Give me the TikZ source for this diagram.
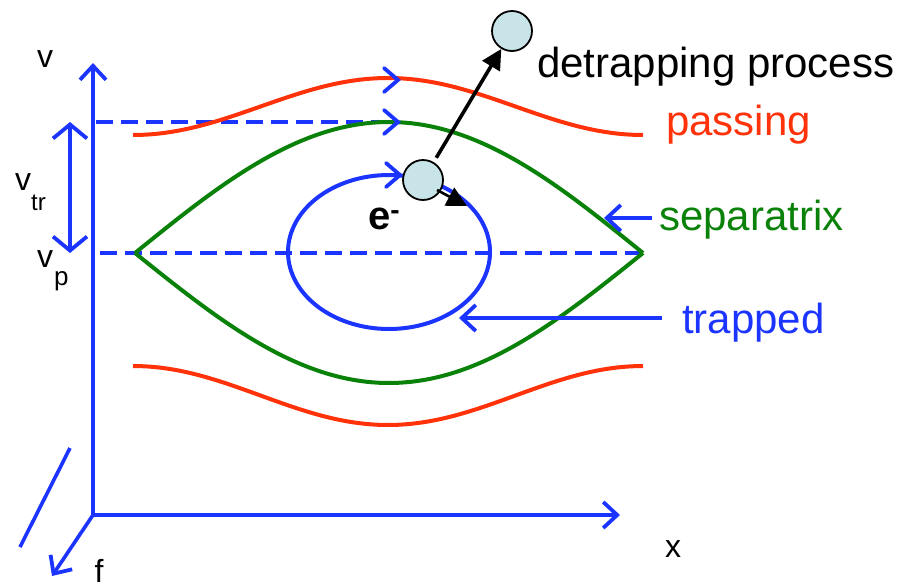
\documentclass[tikz,border=0pt]{standalone}
\usepackage{fontspec}
\setmainfont{Liberation Sans}
\usetikzlibrary{arrows.meta}
\definecolor{pblue}{RGB}{28,52,255}
\definecolor{pred}{RGB}{255,50,10}
\definecolor{pgreen}{RGB}{10,130,10}
\definecolor{pcyan}{RGB}{200,228,232}
\tikzset{
  axis/.style={pblue, line width=3.6pt},
  chev/.style={-{Straight Barb[length=14pt,width=26pt,line width=3.8pt]}},
  dashline/.style={pblue, line width=3.2pt, dash pattern=on 17pt off 8pt},
  curve/.style={line width=4pt, line join=round},
  particle/.style={circle, draw=black, line width=1.8pt, fill=pcyan, minimum size=40pt, inner sep=0pt},
  blk/.style={black, line width=3.6pt, -{Triangle[length=20pt,width=20pt]}},
  lbl/.style={inner sep=0pt, font=\fontsize{42}{46}\selectfont},
  axlbl/.style={inner sep=0pt, font=\fontsize{32}{36}\selectfont},
  chevmark/.style={pblue, line width=3.8pt, line cap=round, line join=miter}
}
\begin{document}
\begin{tikzpicture}[x=1pt,y=-1pt]
\useasboundingbox (0,0) rectangle (905,587);
% coordinates
\coordinate (O) at (93,515);
\coordinate (vtip) at (93,63);
\coordinate (xtip) at (620,515);
\coordinate (ftip) at (52,576);
\coordinate (s1) at (70,448);
\coordinate (s2) at (20,547);
\coordinate (dt) at (70,122);
\coordinate (db) at (70,253);
\coordinate (d1a) at (96,122);
\coordinate (d1b) at (398,122);
\coordinate (d2a) at (100,253);
\coordinate (d2b) at (643,253);
% axes
\draw[axis,chev] (O) -- (vtip);
\draw[axis,chev] (O) -- (xtip);
\draw[axis,chev] (O) -- (ftip);
\draw[axis] (s1) -- (s2);
\draw[axis,{Straight Barb[length=14pt,width=34pt,line width=3.8pt]}-{Straight Barb[length=14pt,width=34pt,line width=3.8pt]}] (dt) -- (db);
% dashed lines
\draw[dashline] (d1a) -- (d1b);
\draw[dashline] (d2a) -- (d2b);
% passing curves
\draw[curve,pred] plot[domain=-90:90,samples=80] ({388+2.8333*\x},{106.5-28.5*cos(2*\x)});
\draw[curve,pred] plot[domain=-90:90,samples=80] ({388+2.8333*\x},{395.5+29.5*cos(2*\x)});
% separatrix
\draw[curve,pgreen] plot[domain=-90:90,samples=80] ({389+2.8222*\x},{253-131*cos(\x)});
\draw[curve,pgreen] plot[domain=-90:90,samples=80] ({389+2.8222*\x},{253+130*cos(\x)});
% trapped orbit
\draw[curve,pblue] (389,252) ellipse [x radius=101, y radius=77];
% chevrons on curves
\draw[chevmark] (384,68) -- (398,80) -- (384,92);
\draw[chevmark] (384,110) -- (398,122) -- (384,134);
\draw[chevmark] (386,163) -- (400,175) -- (386,187);
% pointer arrows
\coordinate (sepA) at (652,218);
\coordinate (sepB) at (604,218);
\coordinate (trA) at (662,318);
\coordinate (trB) at (459,318);
\draw[axis,chev] (sepA) -- (sepB);
\draw[axis,chev] (trA) -- (trB);
% particles
\node[particle] (e1) at (423,180) {};
\node[particle] (e2) at (512,31) {};
\draw[blk, shorten <=5pt] (e1) -- (e2);
\coordinate (m1) at (437,190);
\coordinate (m2) at (467,206);
\draw[black, line width=2.6pt, -{Triangle[length=20pt,width=20pt]}] (m1) -- (m2);
% labels
\node[lbl, anchor=base west] (ldet) at (537,77) {detrapping process};
\node[lbl, anchor=base west, text=pred] (lpass) at (666,135) {passing};
\node[lbl, anchor=base west, text=pgreen] (lsep) at (659,230) {separatrix};
\node[lbl, anchor=base west, text=pblue] (ltr) at (682,333) {trapped};
\node[inner sep=0pt, anchor=base west, font=\fontsize{40}{44}\selectfont\bfseries] (le) at (368,229) {e\textsuperscript{-}};
\node[axlbl, anchor=base] (lv) at (45,67) {v};
\node[axlbl, anchor=base] (lx) at (673,557) {x};
\node[axlbl, anchor=base] (lf) at (99,582) {f};
\node[axlbl, anchor=base] (lvtr) at (23,190) {v};
\node[inner sep=0pt, anchor=base west, font=\fontsize{24}{28}\selectfont] (ltr2) at (31,210) {tr};
\node[axlbl, anchor=base] (lvp) at (45,267) {v};
\node[inner sep=0pt, anchor=base west, font=\fontsize{26}{30}\selectfont] (lp) at (54,285) {p};
\end{tikzpicture}
\end{document}
